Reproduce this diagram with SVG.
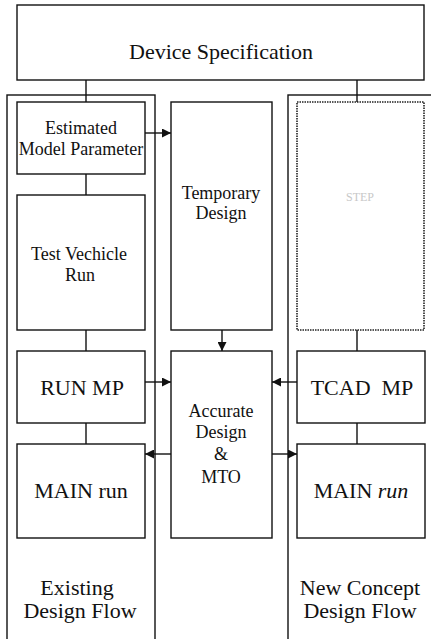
<svg xmlns="http://www.w3.org/2000/svg" width="431" height="639" viewBox="0 0 431 639" font-family="'Liberation Serif', 'Times New Roman', Tinos, 'Noto Serif', 'DejaVu Serif', Georgia, serif">
<style>
.box{fill:none;stroke:#111;stroke-width:1.4}
.dot{fill:none;stroke:#222;stroke-width:1.6;stroke-dasharray:1.5 1}
.ln{stroke:#111;stroke-width:1.4;fill:none}
text{font-family:'Liberation Serif','Times New Roman',Tinos,'Noto Serif','DejaVu Serif',Georgia,serif;fill:#111;text-anchor:middle}
text.t18{font-size:18px}
text.t22{font-size:22px}
</style>
<defs>
<marker id="ah" viewBox="0 0 10 10" refX="10" refY="5" markerWidth="9" markerHeight="9" markerUnits="userSpaceOnUse" orient="auto">
<path d="M0,0 L10,5 L0,10 Z" fill="#111"/>
</marker>
</defs>
<rect width="431" height="639" fill="#fff"/>

<g id="col-existing"><rect class="box" x="7" y="95" width="148" height="560"/>
<text class="t22" x="77" y="595">Existing</text><text class="t22" x="80" y="618">Design Flow</text></g>
<g id="col-new"><rect class="box" x="288" y="95" width="160" height="560"/>
<text class="t22" x="360" y="595">New Concept</text><text class="t22" x="360" y="618">Design Flow</text></g>

<g id="device-spec"><rect class="box" x="17" y="5" width="407" height="75"/>
<text class="t22" x="221" y="59">Device Specification</text></g>

<g id="est-mp"><rect class="box" x="17" y="102" width="128" height="72"/>
<text class="t18" x="81" y="134">Estimated</text><text class="t18" x="81" y="155">Model Parameter</text></g>

<g id="test-run"><rect class="box" x="17" y="195" width="128" height="135"/>
<text class="t18" x="79" y="260">Test Vechicle</text><text class="t18" x="80" y="281">Run</text></g>

<g id="run-mp"><rect class="box" x="17" y="351" width="128" height="72"/>
<text class="t22" x="82" y="395">RUN MP</text></g>

<g id="main-run-left"><rect class="box" x="17" y="444" width="128" height="94"/>
<text class="t22" x="81" y="498">MAIN run</text></g>

<g id="temp-design"><rect class="box" x="171" y="102" width="101" height="228"/>
<text class="t18" x="221" y="199">Temporary</text><text class="t18" x="221" y="219">Design</text></g>

<g id="accurate"><rect class="box" x="171" y="351" width="101" height="187"/>
<text class="t18" x="221" y="417">Accurate</text><text class="t18" x="221" y="438">Design</text>
<text class="t18" x="221" y="460">&amp;</text><text class="t18" x="221" y="483">MTO</text></g>

<g id="stp"><rect class="dot" x="297" y="102" width="127" height="228"/>
<text x="360" y="201" style="font-size:12px;fill:#c8c8c8">STEP</text></g>

<g id="tcad-mp"><rect class="box" x="297" y="351" width="128" height="72"/>
<text class="t22" x="362" y="395" xml:space="preserve">TCAD  MP</text></g>

<g id="main-run-right"><rect class="box" x="297" y="444" width="128" height="94"/>
<text class="t22" x="361" y="498">MAIN <tspan font-style="italic">run</tspan></text></g>

<g id="connectors">
<line class="ln" x1="86" y1="80" x2="86" y2="102"/>
<line class="ln" x1="357" y1="80" x2="357" y2="102"/>
<line class="ln" x1="86" y1="174" x2="86" y2="195"/>
<line class="ln" x1="86" y1="330" x2="86" y2="351"/>
<line class="ln" x1="86" y1="423" x2="86" y2="444"/>
<line class="ln" x1="357" y1="330" x2="357" y2="351"/>
<line class="ln" x1="357" y1="423" x2="357" y2="444"/>
<line class="ln" x1="145" y1="133" x2="171" y2="133" marker-end="url(#ah)"/>
<line class="ln" x1="222" y1="330" x2="222" y2="351" marker-end="url(#ah)"/>
<line class="ln" x1="145" y1="382" x2="171" y2="382" marker-end="url(#ah)"/>
<line class="ln" x1="171" y1="454" x2="145" y2="454" marker-end="url(#ah)"/>
<line class="ln" x1="297" y1="382" x2="272" y2="382" marker-end="url(#ah)"/>
<line class="ln" x1="272" y1="454" x2="297" y2="454" marker-end="url(#ah)"/>
</g>
</svg>
